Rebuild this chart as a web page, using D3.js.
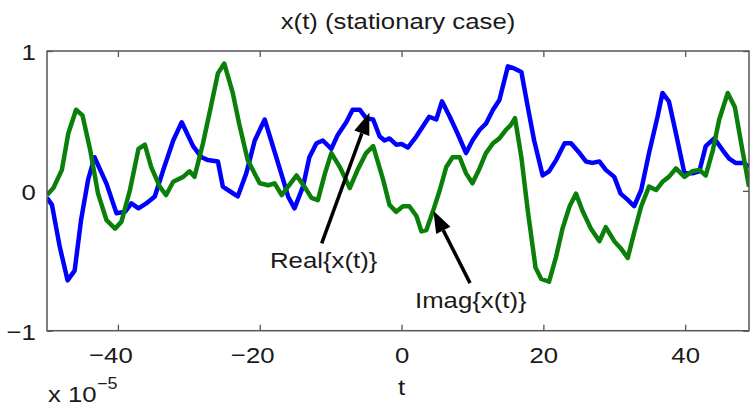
<!DOCTYPE html>
<html>
<head>
<meta charset="utf-8">
<script src="https://cdn.jsdelivr.net/npm/d3@7"></script>
<style>
  html, body { margin: 0; padding: 0; background: #fff; }
  svg { display: block; }
  text { font-family: "Liberation Sans", Arial, Helvetica, sans-serif; fill: #1a1a1a; }
</style>
</head>
<body>
<svg id="chart" width="751" height="406"></svg>
<script>
// Sample times (units of 1e-5) and values of the real part of x(t)
const realT = [-50, -49.3, -48.2, -47.1, -46.1, -45.2, -44.2, -43.3, -41.6, -40.2, -39, -38.1, -37.1, -36, -34.8, -33.6, -32.2, -31, -29.4, -28.2, -27.3, -25.9, -25.2, -24, -23.1, -21.9, -20.7, -19.3, -16.7, -16, -15.1, -13.9, -13, -12, -11.1, -9.9, -9, -7.8, -6.9, -5.9, -5, -4, -3.1, -2.4, -1.7, -0.75, 0, 0.9, 2.1, 3, 3.9, 4.9, 5.7, 6.8, 7.9, 9.1, 10, 11, 11.9, 12.9, 13.8, 15, 15.9, 16.9, 17.8, 18.7, 19.9, 20.8, 21.8, 23, 23.9, 25.1, 26, 26.9, 27.9, 28.8, 30, 30.9, 31.9, 32.8, 33.8, 34.9, 36.1, 36.8, 37.7, 38.7, 39.9, 41, 42, 42.9, 44.1, 45.3, 46.2, 47.1, 48.3, 49];
const realV = [-0.05, -0.1, -0.4, -0.64, -0.57, -0.21, 0.08, 0.24, 0.05, -0.16, -0.15, -0.09, -0.125, -0.09, -0.04, 0.15, 0.36, 0.49, 0.32, 0.24, 0.22, 0.21, 0.03, -0.01, -0.04, 0.125, 0.36, 0.51, 0.08, -0.04, -0.125, 0.03, 0.24, 0.34, 0.36, 0.30, 0.40, 0.49, 0.58, 0.58, 0.52, 0.51, 0.39, 0.36, 0.375, 0.33, 0.335, 0.31, 0.39, 0.46, 0.53, 0.51, 0.64, 0.53, 0.41, 0.27, 0.36, 0.435, 0.48, 0.58, 0.65, 0.89, 0.875, 0.85, 0.60, 0.36, 0.11, 0.14, 0.22, 0.34, 0.34, 0.27, 0.21, 0.20, 0.21, 0.15, 0.10, -0.02, -0.065, -0.11, 0.006, 0.27, 0.53, 0.70, 0.64, 0.41, 0.125, 0.125, 0.14, 0.32, 0.375, 0.29, 0.23, 0.20, 0.20, 0.17];

// Sample times and values of the imaginary part of x(t)
const imagT = [-50, -49.1, -47.9, -47, -45.9, -45, -43.9, -42.8, -41.6, -40.4, -39.5, -38.3, -37.1, -36.2, -35.3, -34.1, -33.2, -32.2, -30.8, -29.9, -29.2, -28, -26.9, -25.9, -25, -23.8, -22.9, -21.7, -20, -18.8, -17.9, -16.9, -16, -14.8, -13.7, -12.7, -11.8, -10.8, -9.9, -8.7, -7.3, -6.2, -5, -4, -2.6, -1.7, -0.75, 0.2, 1.1, 2.1, 2.8, 3.5, 4.4, 5.4, 6.3, 7.2, 8.2, 9.1, 10, 11, 11.9, 12.9, 13.8, 14.7, 15.4, 16, 16.9, 17.8, 18.9, 19.7, 20.8, 21.8, 22.7, 23.7, 24.6, 25.5, 26.7, 27.9, 28.8, 30, 30.9, 31.9, 32.8, 33.8, 34.9, 35.9, 36.8, 37.7, 38.7, 39.9, 41, 42, 42.9, 43.9, 44.8, 46, 47, 47.9, 49];
const imagV = [-0.03, 0.02, 0.15, 0.41, 0.58, 0.54, 0.29, -0.02, -0.21, -0.27, -0.22, 0.006, 0.30, 0.33, 0.17, 0.03, -0.03, 0.065, 0.10, 0.14, 0.10, 0.34, 0.60, 0.84, 0.91, 0.70, 0.48, 0.22, 0.054, 0.04, 0.054, -0.03, 0.03, 0.11, 0.03, -0.05, -0.066, 0.125, 0.27, 0.17, 0.02, 0.15, 0.27, 0.32, 0.08, -0.10, -0.15, -0.11, -0.11, -0.18, -0.29, -0.28, -0.15, 0.006, 0.17, 0.24, 0.24, 0.125, 0.054, 0.16, 0.27, 0.34, 0.375, 0.435, 0.47, 0.52, 0.24, -0.14, -0.55, -0.63, -0.65, -0.47, -0.27, -0.11, -0.02, -0.14, -0.27, -0.36, -0.26, -0.36, -0.41, -0.48, -0.30, -0.11, 0.03, 0.006, 0.065, 0.10, 0.16, 0.10, 0.14, 0.15, 0.11, 0.29, 0.51, 0.70, 0.60, 0.34, 0.03];

// Axis ticks
const xTicks = [-40, -20, 0, 20, 40];
const yTicks = [-1, 0, 1];

// Text labels
const titleText = "x(t) (stationary case)";
const xLabelText = "t";
const xExponent = "-5";

// Callouts: label text, label anchor (t, v) and arrow tail / tip in data units
const calloutLabels = ["Real{x(t)}", "Imag{x(t)}"];
const calloutAt = [[-18.55, -0.554], [1.9, -0.84]];
const arrowFrom = [[-11.26, -0.375], [9.66, -0.66]];
const arrowTo = [[-4.54, 0.559], [4.49, -0.142]];

const FONT = 23;
const SX = 1.12;   // horizontal stretch of the lettering

const svg = d3.select("#chart");

const x = d3.scaleLinear().domain([-50, 49]).range([47, 749]);
const y = d3.scaleLinear().domain([-1, 1]).range([330.7, 51]);

const plot = svg.append("g");

// Clip to the axes box
svg.append("defs").append("clipPath").attr("id", "box")
  .append("rect").attr("x", x.range()[0]).attr("y", y.range()[1])
  .attr("width", x.range()[1] - x.range()[0]).attr("height", y.range()[0] - y.range()[1]);

const line = d3.line().x(d => x(d[0])).y(d => y(d[1]));

const realPts = realT.map((t, i) => [t, realV[i]]);
const imagPts = imagT.map((t, i) => [t, imagV[i]]);

const lines = plot.append("g").attr("clip-path", "url(#box)");
lines.append("path").datum(realPts).attr("d", line)
  .attr("fill", "none").attr("stroke", "#0000ff").attr("stroke-width", 4.5)
  .attr("stroke-linejoin", "round");
lines.append("path").datum(imagPts).attr("d", line)
  .attr("fill", "none").attr("stroke", "#0a800a").attr("stroke-width", 4.5)
  .attr("stroke-linejoin", "round");

// Axes (ticks point inward, boxed)
const axisColor = "#555";
const fmt = d => (d < 0 ? "\u2212" : "") + Math.abs(d);

function styleAxis(g) {
  g.select(".domain").remove();
  g.selectAll(".tick line").attr("stroke", axisColor).attr("stroke-width", 1.3);
  g.selectAll(".tick text").attr("font-size", FONT).attr("fill", "#1a1a1a")
    .attr("font-family", null);
}

const xb = plot.append("g").attr("transform", `translate(0,${y.range()[0]})`)
  .call(d3.axisBottom(x).tickValues(xTicks).tickSize(-6).tickPadding(16).tickFormat(fmt));
styleAxis(xb);
xb.selectAll(".tick text")
  .attr("transform", "scale(" + SX + ",1)")
  .attr("dx", d => d < 0 ? -0.292 * FONT : 0);

const xt = plot.append("g").attr("transform", `translate(0,${y.range()[1]})`)
  .call(d3.axisTop(x).tickValues(xTicks).tickSize(-6).tickFormat(""));
styleAxis(xt);

const yl = plot.append("g").attr("transform", `translate(${x.range()[0]},0)`)
  .call(d3.axisLeft(y).tickValues(yTicks).tickSize(-6).tickPadding(10).tickFormat(fmt));
styleAxis(yl);
yl.selectAll(".tick text").attr("transform", "translate(0,1.5) scale(" + SX + ",1)");

const yr = plot.append("g").attr("transform", `translate(${x.range()[1]},0)`)
  .call(d3.axisRight(y).tickValues(yTicks).tickSize(-6).tickFormat(""));
styleAxis(yr);

// Box
plot.append("rect")
  .attr("x", x.range()[0]).attr("y", y.range()[1])
  .attr("width", x.range()[1] - x.range()[0]).attr("height", y.range()[0] - y.range()[1])
  .attr("fill", "none").attr("stroke", axisColor).attr("stroke-width", 1.5);

// Helper for stretched text
function label(txt, px, py, anchor, size) {
  return svg.append("text")
    .attr("transform", `translate(${px},${py}) scale(${SX},1)`)
    .attr("text-anchor", anchor || "start")
    .attr("font-size", size || FONT)
    .text(txt);
}

// Title and axis label
label(titleText, (x.range()[0] + x.range()[1]) / 2, 28.5, "middle");
label(xLabelText, x(0), 395, "middle");

// Exponent note under the axis
label("x 10", 48, 401.5, "start");
label(xExponent.replace("-", "\u2212"), 97, 389, "start", 16);

// Callout arrows and labels
const callouts = svg.append("g");
calloutLabels.forEach((txt, i) => {
  const [x0, y0] = [x(arrowFrom[i][0]), y(arrowFrom[i][1])];
  const [x1, y1] = [x(arrowTo[i][0]), y(arrowTo[i][1])];
  const ang = Math.atan2(y1 - y0, x1 - x0);
  const headLen = 22, headHalf = 8;
  const bx = x1 - headLen * Math.cos(ang), by = y1 - headLen * Math.sin(ang);
  callouts.append("line")
    .attr("x1", x0).attr("y1", y0).attr("x2", bx).attr("y2", by)
    .attr("stroke", "#000").attr("stroke-width", 3.5);
  const px = -Math.sin(ang), py = Math.cos(ang);
  callouts.append("path")
    .attr("d", `M${x1},${y1}L${bx + headHalf * px},${by + headHalf * py}L${bx - headHalf * px},${by - headHalf * py}Z`)
    .attr("fill", "#000");
  label(txt, x(calloutAt[i][0]), y(calloutAt[i][1]), "start");
});
</script>
</body>
</html>
